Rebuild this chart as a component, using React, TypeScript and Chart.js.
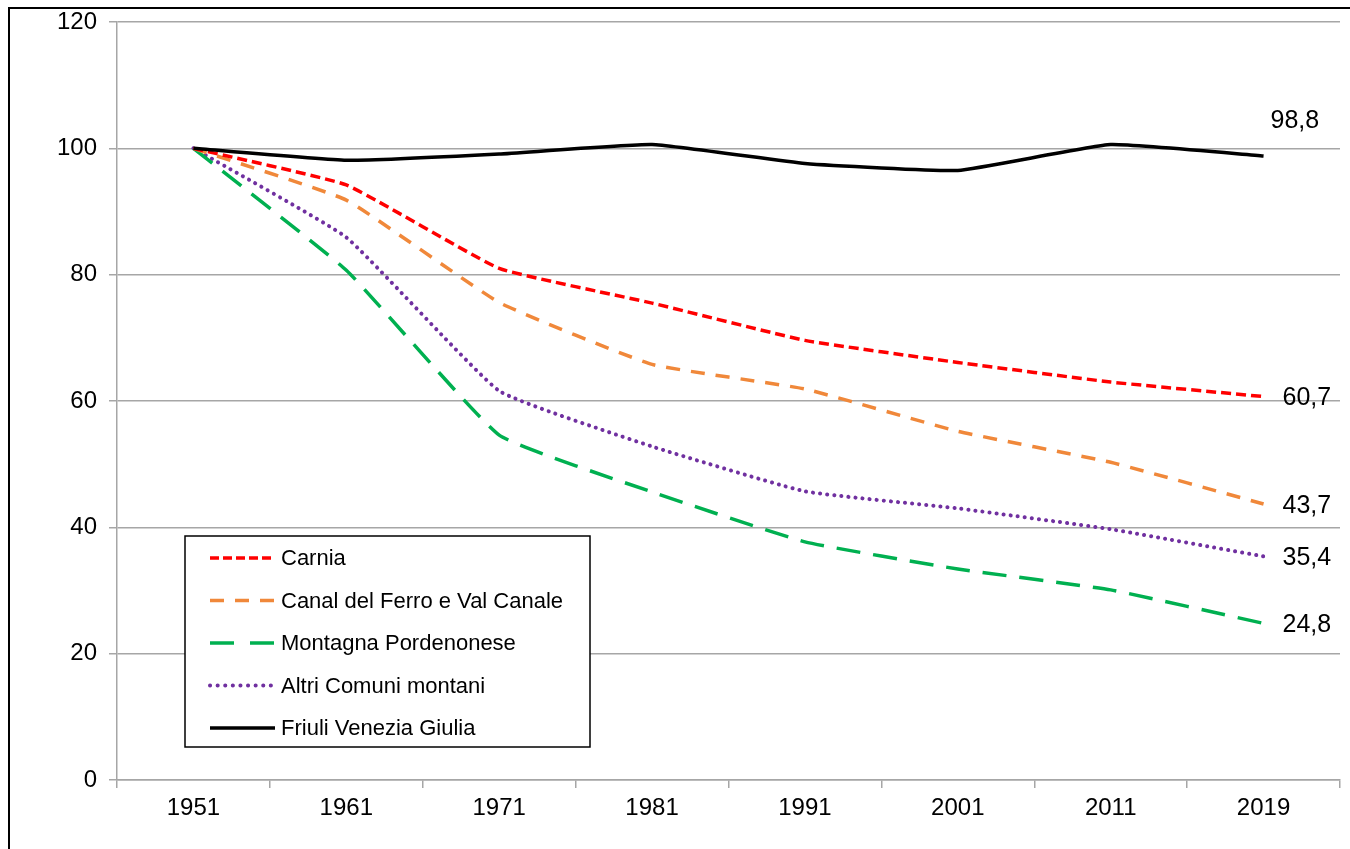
import React, { useEffect, useRef } from "react";
import { Chart, registerables } from "chart.js";

Chart.register(...registerables);

const years = ["1951", "1961", "1971", "1981", "1991", "2001", "2011", "2019"];
const seriesNames = [
  "Carnia",
  "Canal del Ferro e Val Canale",
  "Montagna Pordenonese",
  "Altri Comuni montani",
  "Friuli Venezia Giulia",
];
const carnia = [100, 94.2, 81.0, 75.5, 69.6, 66.1, 63.0, 60.7];
const canalDelFerro = [100, 91.8, 75.6, 65.8, 61.9, 55.2, 50.3, 43.7];
const montagnaPordenonese = [100, 80.7, 54.6, 45.6, 37.7, 33.4, 30.1, 24.8];
const altriComuni = [100, 85.9, 61.6, 52.8, 45.7, 43.0, 39.7, 35.4];
const friuliVG = [100, 98.1, 99.1, 100.6, 97.6, 96.5, 100.6, 98.8];
const endLabels = ["60,7", "43,7", "24,8", "35,4", "98,8"];

const FONT = "'Liberation Sans', Arial, sans-serif";

const endLabelPlugin = {
  id: "endLabels",
  afterDatasetsDraw(chart: any) {
    const ctx = chart.ctx;
    ctx.save();
    ctx.font = `25px ${FONT}`;
    ctx.fillStyle = "#000";
    ctx.textAlign = "left";
    ctx.textBaseline = "middle";
    chart.data.datasets.forEach((ds: any, i: number) => {
      const meta = chart.getDatasetMeta(i);
      const pt = meta.data[meta.data.length - 1];
      if (!pt) return;
      const isTop = i === 4;
      const x = pt.x + (isTop ? 7 : 19);
      const y = pt.y + (isTop ? -35 : 2);
      ctx.fillText(endLabels[i], x, y);
    });
    ctx.restore();
  },
};

const legendPlugin = {
  id: "boxLegend",
  afterDraw(chart: any) {
    const ctx = chart.ctx;
    const left = 185, top = 536, w = 405, h = 211;
    ctx.save();
    ctx.fillStyle = "#fff";
    ctx.fillRect(left, top, w, h);
    ctx.strokeStyle = "#000";
    ctx.lineWidth = 1.5;
    ctx.strokeRect(left, top, w, h);
    ctx.font = `22px ${FONT}`;
    ctx.textBaseline = "middle";
    ctx.textAlign = "left";
    chart.data.datasets.forEach((ds: any, i: number) => {
      const y = top + 22 + i * 42.5;
      ctx.save();
      ctx.strokeStyle = ds.borderColor;
      ctx.lineWidth = ds.borderWidth;
      ctx.lineCap = ds.borderCapStyle || "butt";
      ctx.setLineDash(ds.legendDash || ds.borderDash || []);
      ctx.beginPath();
      ctx.moveTo(210, y);
      ctx.lineTo(275, y);
      ctx.stroke();
      ctx.restore();
      ctx.fillStyle = "#000";
      ctx.fillText(ds.label, 281, y + 1);
    });
    ctx.restore();
  },
};

export default function App() {
  const ref = useRef<HTMLCanvasElement>(null);
  useEffect(() => {
    if (!ref.current) return;
    const chart = new Chart(ref.current, {
      type: "line",
      data: {
        labels: years,
        datasets: [
          {
            label: seriesNames[0],
            data: carnia,
            borderColor: "#FF0000",
            borderWidth: 3.5,
            borderDash: [10, 5],
            legendDash: [9, 4],
            order: 1,
          } as any,
          {
            label: seriesNames[1],
            data: canalDelFerro,
            borderColor: "#F0883A",
            borderWidth: 3.5,
            borderDash: [14, 11],
            legendDash: [14, 11],
            order: 2,
          },
          {
            label: seriesNames[2],
            data: montagnaPordenonese,
            borderColor: "#00B050",
            borderWidth: 3.5,
            borderDash: [24, 13],
            legendDash: [24, 16],
            order: 3,
          },
          {
            label: seriesNames[3],
            data: altriComuni,
            borderColor: "#7030A0",
            borderWidth: 4,
            borderDash: [0.1, 7],
            legendDash: [0.1, 7.5],
            borderCapStyle: "round",
            order: 4,
          },
          {
            label: seriesNames[4],
            data: friuliVG,
            borderColor: "#000000",
            borderWidth: 3.5,
            order: 0,
          },
        ],
      },
      options: {
        animation: false,
        responsive: false,
        maintainAspectRatio: false,
        layout: { padding: { left: 0, right: 10, top: 22, bottom: 0 } },
        elements: {
          point: { radius: 0, hoverRadius: 0 },
          line: { tension: 0.12, fill: false },
        },
        plugins: {
          legend: { display: false },
          tooltip: { enabled: false },
        },
        scales: {
          x: {
            type: "category",
            offset: true,
            grid: {
              offset: true,
              drawOnChartArea: false,
              drawTicks: true,
              tickLength: 8,
              color: "#a6a6a6",
              lineWidth: 1.5,
            },
            border: { display: true, color: "#a6a6a6", width: 1.5 },
            ticks: {
              color: "#000",
              font: { family: FONT, size: 24 },
              padding: 6,
              maxRotation: 0,
              autoSkip: false,
            },
            afterFit(scale: any) {
              scale.height = 69;
              scale.paddingLeft = 0;
              scale.paddingRight = 0;
            },
          },
          y: {
            min: 0,
            max: 120,
            grid: {
              color: "#a6a6a6",
              lineWidth: 1.5,
              drawTicks: true,
              tickLength: 8,
            },
            border: { display: true, color: "#a6a6a6", width: 1.5 },
            ticks: {
              stepSize: 20,
              color: "#000",
              font: { family: FONT, size: 24 },
              padding: 12,
            },
            afterFit(scale: any) {
              scale.width = 117;
              scale.paddingTop = 0;
              scale.paddingBottom = 0;
            },
          },
        },
      },
      plugins: [endLabelPlugin, legendPlugin],
    });
    return () => chart.destroy();
  }, []);

  return (
    <div
      style={{
        position: "absolute",
        left: 0,
        top: 0,
        width: 1350,
        height: 849,
        overflow: "hidden",
        background: "#fff",
      }}
    >
      <canvas ref={ref} width={1350} height={849} style={{ position: "absolute", left: 0, top: 0 }} />
      <div
        style={{
          position: "absolute",
          left: 8,
          top: 7,
          width: 1400,
          height: 900,
          borderLeft: "2px solid #000",
          borderTop: "2px solid #000",
          pointerEvents: "none",
        }}
      />
    </div>
  );
}
